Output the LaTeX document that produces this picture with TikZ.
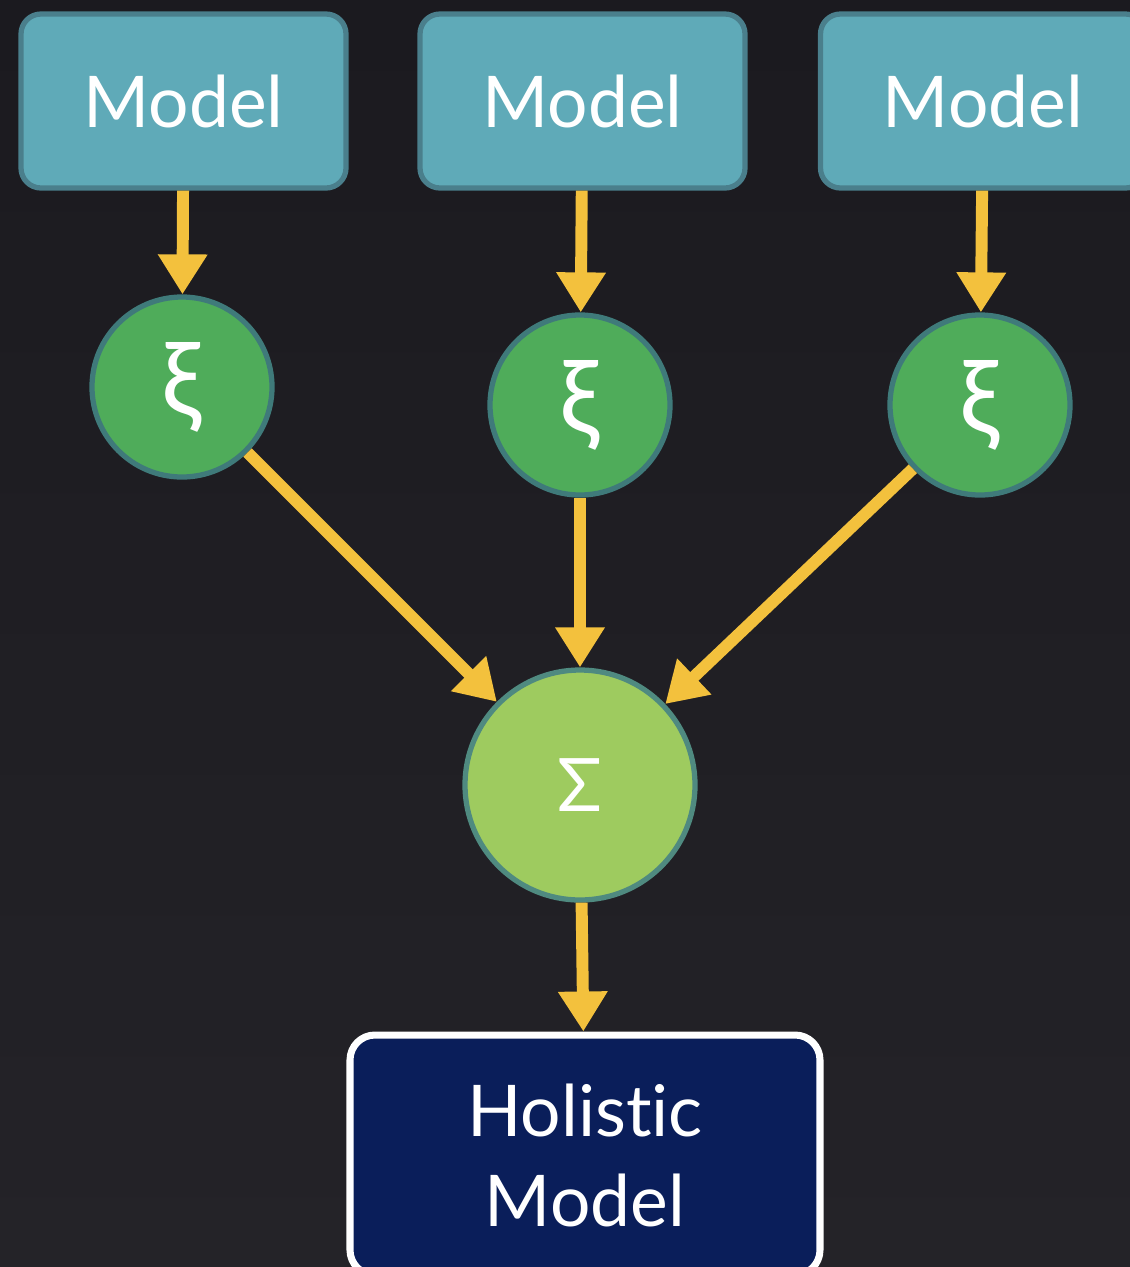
\documentclass[tikz,border=0pt]{standalone}
\usepackage{fontspec}
\setmainfont{Lato}[Ligatures=NoCommon]
\usetikzlibrary{arrows.meta}

\definecolor{bgtop}{HTML}{1B1A1F}
\definecolor{bgbot}{HTML}{242328}
\definecolor{modelfill}{HTML}{5FAAB8}
\definecolor{modeledge}{HTML}{4A7F8C}
\definecolor{xifill}{HTML}{4FAC5A}
\definecolor{xiedge}{HTML}{3F7A7A}
\definecolor{sumfill}{HTML}{9ECB5F}
\definecolor{sumedge}{HTML}{4F8A80}
\definecolor{holfill}{HTML}{0A1E5A}
\definecolor{flowcol}{HTML}{F3C13D}

\begin{document}
\begin{tikzpicture}[
    model/.style={rectangle, rounded corners=0.2cm, fill=modelfill, draw=modeledge, line width=1.5pt,
        minimum width=3.25cm, minimum height=1.74cm, text=white, font=\fontsize{20.3}{25.6}\selectfont},
    xinode/.style={circle, fill=xifill, draw=xiedge, line width=1.5pt, minimum size=1.8cm,
        inner sep=0pt, text=white, font=\fontsize{29}{32}\selectfont},
    flow/.style={draw=flowcol, line width=3.4pt, -{Triangle[width=4.7mm,length=4mm]}, flowcol}
]

\useasboundingbox (0,0) rectangle (11.30,-12.67);
\clip (0,0) rectangle (11.30,-12.67);
\shade[top color=bgtop, bottom color=bgbot] (0,0) rectangle (11.30,-12.67);

% models on top
\node[model] (m1) at (1.835,-1.01) {Model};
\node[model] (m2) at (5.825,-1.01) {Model};
\node[model] (m3) at (9.83,-1.01) {Model};

% weights
\node[xinode] (x1) at (1.82,-3.87) {ξ};
\node[xinode] (x2) at (5.80,-4.05) {ξ};
\node[xinode] (x3) at (9.80,-4.05) {ξ};

\node[circle, fill=sumfill, draw=sumedge, line width=1.5pt, minimum size=2.3cm, inner sep=0pt,
    text=white, font=\fontsize{21}{25.6}\selectfont] (s) at (5.80,-7.85) {Σ};

\node[rectangle, rounded corners=0.25cm, fill=holfill, draw=white, line width=2pt,
    minimum width=4.7cm, minimum height=2.4cm, align=center, text=white,
    font=\fontsize{20.3}{25.6}\selectfont] (h) at (5.85,-11.55) {Holistic\\Model};

\foreach \i in {1,2,3}
    \draw[flow] (m\i) -- (x\i);

\foreach \i in {1,2,3}
    \draw[flow] (x\i) -- (s);

\draw[flow] (s) -- (h);

\end{tikzpicture}
\end{document}
